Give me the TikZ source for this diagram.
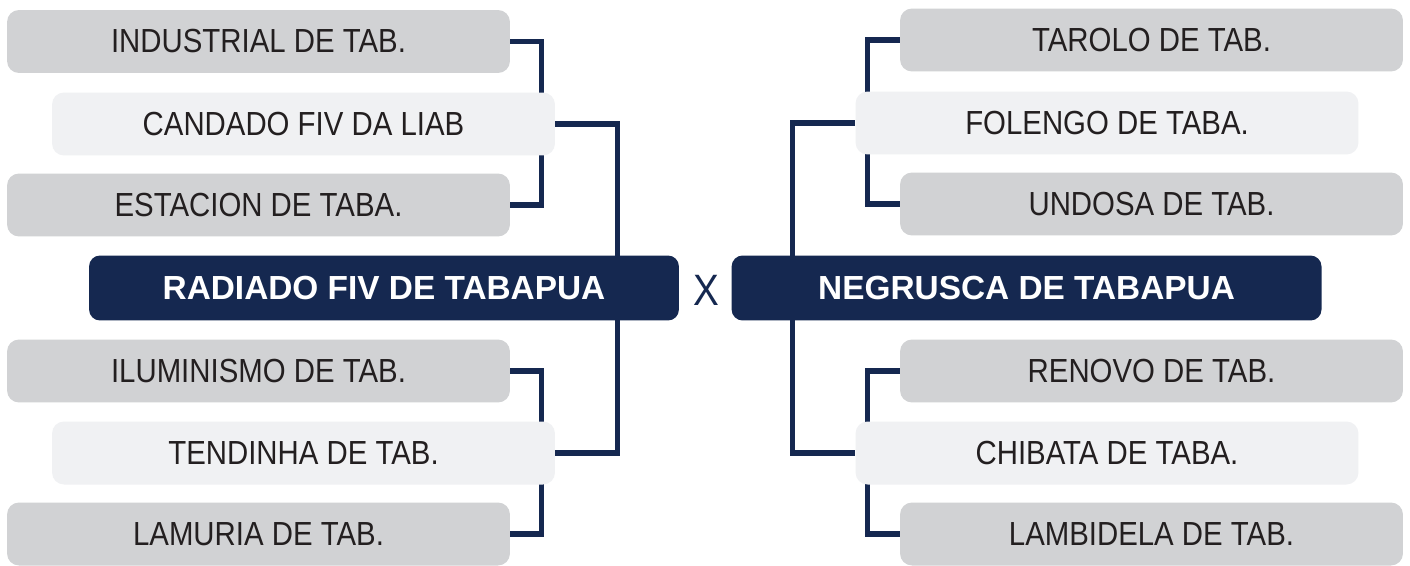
\documentclass[tikz,border=0pt]{standalone}
\usepackage{fontspec}
\setmainfont{Liberation Sans}
\newfontfamily\narrowfont[FakeStretch=0.88]{Liberation Sans}
\usepackage{tikz}
\usetikzlibrary{positioning, backgrounds}

\definecolor{navy}{HTML}{152850}
\definecolor{boxgrey}{HTML}{D1D2D4}
\definecolor{boxlight}{HTML}{F0F1F3}
\definecolor{inkdark}{HTML}{231F20}

\begin{document}
\begin{tikzpicture}[x=0.02cm, y=-0.02cm, node distance = 1.04cm]
    \tikzset{
    sire/.style=
    {
        rounded corners=0.24cm,
        fill=boxgrey,
        text=inkdark,
        minimum width=10.06cm,
        minimum height=1.26cm,
        font=\narrowfont\fontsize{19}{22}\selectfont
    },
    dam/.style=
    {
        sire,
        fill=boxlight
    },
    champ/.style=
    {
        rounded corners=0.22cm,
        fill=navy,
        text=white,
        minimum width=11.8cm,
        minimum height=1.3cm,
        font=\bfseries\fontsize{19}{22}\selectfont
    },
    versus/.style=
    {
        text=navy,
        font=\narrowfont\fontsize{25}{28}\selectfont
    },
    link/.style=
    {
        draw=navy,
        line width=3pt
    }
}

  \useasboundingbox (0,0) rectangle (1410,565);

  % left side
  \node[sire] (IND) at (258.5,41.5) {INDUSTRIAL DE TAB.};
  \node[dam]  (CAND) at (303.5,124) {CANDADO FIV DA LIAB};
  \node[sire] (EST) at (258.5,205) {ESTACION DE TABA.};
  \node[champ] (RAD) at (384,288) {RADIADO FIV DE TABAPUA};
  \node[sire] (ILU) at (258.5,371) {ILUMINISMO DE TAB.};
  \node[dam]  (TEND) at (303.5,453) {TENDINHA DE TAB.};
  \node[sire] (LAM) at (258.5,534) {LAMURIA DE TAB.};

  % right side
  \node[champ, right =of RAD] (NEG) {NEGRUSCA DE TABAPUA};
  \node[versus] (VS) at (706,290) {X};
  \node[sire] (TAR) at (1151.5,40) {TAROLO DE TAB.};
  \node[dam]  (FOL) at (1107,123) {FOLENGO DE TABA.};
  \node[sire] (UND) at (1151.5,204) {UNDOSA DE TAB.};
  \node[sire] (REN) at (1151.5,371) {RENOVO DE TAB.};
  \node[dam]  (CHIB) at (1107,453) {CHIBATA DE TABA.};
  \node[sire] (LAMB) at (1151.5,534) {LAMBIDELA DE TAB.};

  \begin{scope}[on background layer]
    \fill[white] (0,0) rectangle (1410,565);
    \draw[link] (IND.east) -- ++(31,0) |- (EST.east);
    \draw[link] (CAND.east) -- ++(62,0) |- (TEND.east);
    \draw[link] (ILU.east) -- ++(31,0) |- (LAM.east);
    \draw[link] (TAR.west) -- ++(-32,0) |- (UND.west);
    \draw[link] (FOL.west) -- ++(-63,0) |- (CHIB.west);
    \draw[link] (REN.west) -- ++(-32,0) |- (LAMB.west);
  \end{scope}

\end{tikzpicture}
\end{document}
